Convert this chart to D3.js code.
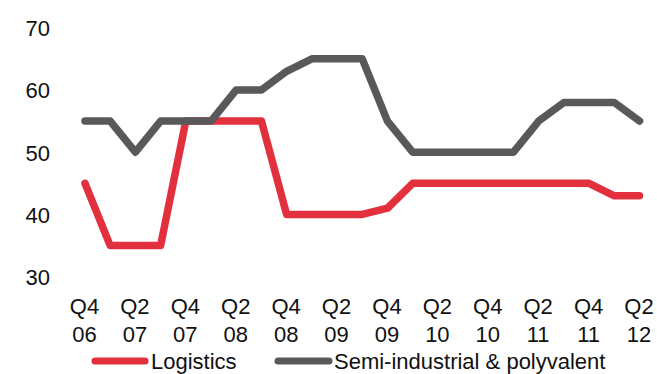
<!DOCTYPE html>
<html>
<head>
<meta charset="utf-8">
<script src="https://cdn.jsdelivr.net/npm/d3@7"></script>
<style>
  html, body { margin: 0; padding: 0; background: #fff; }
  svg text { font-family: "Liberation Sans", Arial, sans-serif; fill: #111; }
</style>
</head>
<body>
<svg id="chart" width="657" height="374"></svg>
<script>
// Quarterly periods, Q4 2006 to Q2 2012
const quarters = ["Q4 06","Q1 07","Q2 07","Q3 07","Q4 07","Q1 08","Q2 08","Q3 08",
  "Q4 08","Q1 09","Q2 09","Q3 09","Q4 09","Q1 10","Q2 10","Q3 10","Q4 10",
  "Q1 11","Q2 11","Q3 11","Q4 11","Q1 12","Q2 12"];
const logistics = [45,35,35,35,55,55,55,55,40,40,40,40,41,45,45,45,45,45,45,45,45,43,43];
const semiIndustrial = [55,55,50,55,55,55,60,60,63,65,65,65,55,50,50,50,50,50,55,58,58,58,55];
const yTicks = [30,40,50,60,70];
const seriesNames = ["Logistics","Semi-industrial & polyvalent"];
const seriesColors = ["#E3303F","#59595B"];

const svg = d3.select("#chart");

const x = d3.scalePoint().domain(quarters).range([85, 639.5]);
const y = d3.scaleLinear().domain([30, 70]).range([276.7, 27.7]);

// Y axis labels only (no axis line or ticks)
const yAxis = d3.axisLeft(y).tickValues(yTicks).tickSize(0).tickPadding(0);
const yg = svg.append("g").attr("transform", "translate(50,0)").call(yAxis);
yg.select(".domain").remove();
yg.selectAll("text")
  .attr("font-size", 22)
  .attr("font-family", "Liberation Sans, Arial, sans-serif")
  .attr("fill", "#111")
  .attr("dy", "0.36em");

// X axis labels: every other quarter, split over two lines
const xLabels = quarters.filter((q, i) => i % 2 === 0);
const xAxis = d3.axisBottom(x).tickValues(xLabels).tickSize(0).tickFormat("");
const xg = svg.append("g").attr("transform", "translate(0,290)").call(xAxis);
xg.select(".domain").remove();
xg.selectAll(".tick").each(function(d) {
  const parts = d.split(" ");
  const t = d3.select(this).append("text")
    .attr("text-anchor", "middle")
    .attr("font-size", 22)
    .attr("fill", "#111");
  t.append("tspan").attr("x", -1).attr("y", 23.5).text(parts[0]);
  t.append("tspan").attr("x", -1).attr("y", 51.5).text(parts[1]);
});

// Lines
const line = d3.line()
  .x((d, i) => x(quarters[i]))
  .y(d => y(d));

[logistics, semiIndustrial].forEach((vals, k) => {
  svg.append("path")
    .datum(vals)
    .attr("d", line)
    .attr("fill", "none")
    .attr("stroke", seriesColors[k])
    .attr("stroke-width", 7.5)
    .attr("stroke-linejoin", "round")
    .attr("stroke-linecap", "round");
});

// Legend
const legendItems = [
  { x0: 92, x1: 148, tx: 151 },
  { x0: 275, x1: 332, tx: 334 }
];
legendItems.forEach((it, k) => {
  svg.append("line")
    .attr("x1", it.x0 + 3).attr("x2", it.x1 - 3)
    .attr("y1", 361).attr("y2", 361)
    .attr("stroke", seriesColors[k])
    .attr("stroke-width", 7)
    .attr("stroke-linecap", "round");
  svg.append("text")
    .attr("x", it.tx).attr("y", 369)
    .attr("font-size", 22)
    .text(seriesNames[k]);
});
</script>
</body>
</html>
